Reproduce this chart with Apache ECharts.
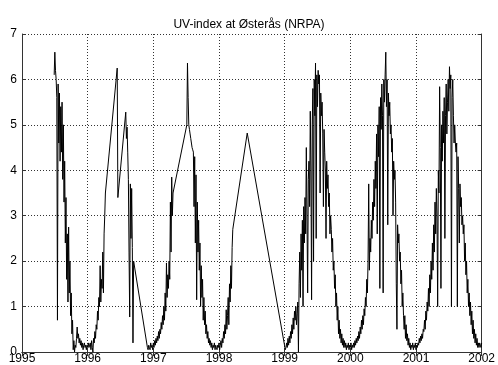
<!DOCTYPE html>
<html>
<head>
<meta charset="utf-8">
<script src="https://cdn.jsdelivr.net/npm/echarts@6/dist/echarts.min.js"></script>
<style>
	html, body { margin: 0; padding: 0; background: #fff; }
	#chart { width: 498px; height: 365px; }
</style>
</head>
<body>
<div id="chart"></div>
<script>
// daily-ish samples, one value every STEP year
var STEP = 0.01;
var xTicks = [1995, 1996, 1997, 1998, 1999, 2000, 2001, 2002];

var start1995 = 1995.49;
var uv1995 = [
	6.1, 6.6, 6.2, 6.0, 5.6, 0.7, 5.9, 4.6, 5.7, 4.2,
	5.4, 4.4, 5.5, 3.8, 5.0, 3.3, 4.2, 2.4, 3.4, 1.6,
	2.6, 1.1, 2.75, 1.3, 2.0, 0.8, 1.3, 0.4, 0.7, 0.05,
	0.25, 0.0, 0.15, 0.1, 0.3, 0.55, 0.3, 0.4, 0.2, 0.3,
	0.15, 0.25, 0.1, 0.2, 0.05, 0.15, 0.2, 0.1, 0.15, 0.05,
	0.15, 0.1, 0.2, 0.1, 0.15, 0.2, 0.05, 0.25, 0.1, 0.0,
	0.3, 0.2, 0.45, 0.3, 0.6, 0.5, 0.9, 0.7, 1.2, 1.0,
	1.9, 1.1, 1.6, 1.4, 2.2, 1.3, 2.6, 3.0, 3.5
];

var start1996a = 1996.45;
var uv1996a = [6.25, 3.4];

var start1996b = 1996.58;
var uv1996b = [5.28, 4.7, 4.95, 4.4, 3.8, 2.2, 0.77, 3.7, 2.5, 3.6, 2.3, 0.2, 2.0];

var start1997a = 1996.91;
var uv1997a = [
	0.1, 0.05, 0.15, 0.1, 0.05, 0.2, 0.1, 0.15, 0.05, 0.2,
	0.1, 0.25, 0.15, 0.3, 0.2, 0.35, 0.25, 0.45, 0.3, 0.5,
	0.4, 0.65, 0.5, 0.8, 0.6, 1.0, 0.7, 1.3, 0.9, 1.96,
	1.2, 1.7, 1.4, 2.0, 1.6, 3.3, 2.2, 3.85, 3.0, 3.5
];

var start1997b = 1997.51;
var uv1997b = [
	5.0, 6.36, 5.6, 5.0, 4.9, 4.8, 4.7, 4.6, 4.5,
	4.45, 4.4, 3.2, 4.3, 2.4, 3.9, 1.15, 3.3, 2.2, 2.9, 1.8, 2.4,
	1.0, 1.9, 1.2, 1.6, 0.7, 1.2, 0.6, 0.9, 0.4, 0.6, 0.3, 0.45,
	0.2, 0.3, 0.15, 0.25, 0.1, 0.2, 0.05, 0.15, 0.1, 0.2, 0.05, 0.15,
	0.1, 0.05, 0.15, 0.1, 0.2, 0.05, 0.15, 0.25, 0.1, 0.3, 0.2, 0.45,
	0.3, 0.6, 0.4, 0.93, 0.5, 0.8, 1.2, 0.6, 1.5, 1.1, 1.9, 1.4, 2.3, 2.7
];

var start1998 = 1998.43;
var uv1998 = [4.82];

var start1999 = 1999.01;
var uv1999 = [
	0.05, 0.1, 0.2, 0.1, 0.3, 0.15, 0.35, 0.2, 0.45, 0.3,
	0.6, 0.4, 0.75, 0.5, 0.9, 0.7, 1.0, 0.6, 0.85, 1.1,
	0.0, 1.5, 2.2, 1.2, 2.6, 1.8, 2.9, 1.0, 3.2, 2.4,
	3.4, 2.6, 4.5, 3.0, 1.3, 3.8, 4.2, 3.2, 5.3, 4.0,
	1.15, 5.0, 5.8, 2.0, 6.0, 5.2, 6.36, 2.5, 6.1, 5.4,
	6.2, 5.9, 6.1, 3.5, 5.7, 5.2, 5.5, 4.8, 3.2, 4.9,
	4.4, 4.0, 2.5, 4.2, 3.6, 3.9, 3.2, 3.5, 2.6, 3.0,
	2.7, 2.2, 2.5, 1.8, 2.0, 1.4, 1.7, 1.0, 1.3, 0.7,
	1.0, 0.4, 0.7, 0.3, 0.5, 0.2, 0.4, 0.15, 0.3, 0.1,
	0.25, 0.1, 0.2, 0.05, 0.15, 0.1, 0.2, 0.05, 0.15, 0.1
];

var start2000 = 2000.01;
var uv2000 = [
	0.2, 0.05, 0.15, 0.1, 0.2, 0.1, 0.25, 0.15, 0.3, 0.2,
	0.35, 0.25, 0.45, 0.3, 0.55, 0.4, 0.7, 0.5, 0.8, 0.6,
	0.95, 0.8, 1.2, 1.0, 1.6, 1.3, 2.0, 3.7, 1.8, 2.5,
	2.2, 2.9, 2.5, 3.3, 2.9, 3.8, 3.2, 4.2, 3.6, 4.8,
	2.6, 5.0, 4.3, 5.4, 1.4, 5.6, 4.9, 5.9, 5.2, 1.3,
	6.0, 5.5, 6.1, 6.6, 5.4, 6.0, 2.8, 5.7, 5.2, 5.5,
	4.8, 5.0, 4.4, 4.7, 3.0, 4.2, 3.8, 4.0, 3.3, 1.5,
	0.5, 2.8, 2.4, 2.6, 2.0, 2.2, 1.5, 1.8, 1.0, 1.3,
	0.8, 0.5, 0.8, 0.3, 0.6, 0.25, 0.4, 0.15, 0.3, 0.1,
	0.2, 0.05, 0.15, 0.1, 0.2, 0.05, 0.15, 0.1, 0.2, 0.05
];

var start2001 = 2001.01;
var uv2001 = [
	0.15, 0.1, 0.2, 0.15, 0.3, 0.2, 0.35, 0.25, 0.4, 0.3,
	0.5, 0.45, 0.7, 0.5, 0.9, 0.7, 1.1, 0.9, 1.4, 1.0,
	1.7, 1.3, 2.0, 1.6, 2.4, 1.8, 2.8, 2.2, 3.3, 2.6,
	3.6, 3.0, 1.0, 4.0, 3.5, 5.84, 4.5, 1.4, 5.0, 4.2,
	5.3, 4.6, 5.6, 2.5, 5.2, 5.9, 4.8, 5.5, 6.0, 5.3,
	6.28, 5.8, 6.1, 1.0, 5.6, 6.0, 5.2, 4.6, 5.0, 4.6,
	4.4, 4.6, 1.0, 4.3, 3.6, 2.4, 3.7, 3.2, 3.4, 2.8,
	3.0, 2.6, 2.8, 2.0, 2.4, 1.7, 2.0, 1.3, 1.6, 1.0,
	1.3, 0.8, 1.1, 0.6, 0.9, 0.4, 0.7, 0.3, 0.5, 0.2,
	0.4, 0.15, 0.3, 0.1, 0.2, 0.1, 0.2, 0.15, 0.1, 0.2
];

var pieces = [
	[start1995, uv1995], [start1996a, uv1996a], [start1996b, uv1996b],
	[start1997a, uv1997a], [start1997b, uv1997b], [start1998, uv1998],
	[start1999, uv1999], [start2000, uv2000], [start2001, uv2001]
];

var points = [];
pieces.forEach(function(p){
	for(var i = 0; i < p[1].length; i++){
		points.push([+(p[0] + i * STEP).toFixed(3), p[1][i]]);
	}
});

var FONT = 'Liberation Sans, Arial, sans-serif';
var boxLine = { show: true, lineStyle: { color: '#333', width: 1 } };
var grid = { show: true, lineStyle: { color: '#333', width: 1, type: [1, 2] } };

var chart = echarts.init(document.getElementById('chart'), null, { renderer: 'canvas' });
chart.setOption({
	animation: false,
	backgroundColor: '#fff',
	title: {
		text: 'UV-index at Østerås (NRPA)',
		left: 'center',
		top: 14,
		textStyle: { fontFamily: FONT, fontSize: 12, fontWeight: 'normal', color: '#000' }
	},
	grid: { left: 22, right: 15, top: 34, bottom: 13, containLabel: false },
	xAxis: [{
		type: 'value',
		min: xTicks[0],
		max: xTicks[xTicks.length - 1],
		interval: 1,
		axisLine: boxLine,
		axisTick: { show: true, inside: true, length: 4, lineStyle: { color: '#333' } },
		axisLabel: {
			margin: 1,
			color: '#000',
			fontFamily: FONT,
			fontSize: 12,
			formatter: function(v){ return String(v); }
		},
		splitLine: grid
	}, {
		type: 'value',
		position: 'top',
		min: xTicks[0],
		max: xTicks[xTicks.length - 1],
		interval: 1,
		axisLine: boxLine,
		axisTick: { show: true, inside: true, length: 4, lineStyle: { color: '#333' } },
		axisLabel: { show: false },
		splitLine: { show: false }
	}],
	yAxis: [{
		type: 'value',
		min: 0,
		max: 7,
		interval: 1,
		axisLine: boxLine,
		axisTick: { show: true, inside: true, length: 4, lineStyle: { color: '#333' } },
		axisLabel: { margin: 5, color: '#000', fontFamily: FONT, fontSize: 12 },
		splitLine: grid
	}, {
		type: 'value',
		position: 'right',
		min: 0,
		max: 7,
		interval: 1,
		axisLine: boxLine,
		axisTick: { show: true, inside: true, length: 4, lineStyle: { color: '#333' } },
		axisLabel: { show: false },
		splitLine: { show: false }
	}],
	series: [{
		type: 'line',
		data: points,
		showSymbol: false,
		symbol: 'none',
		sampling: null,
		lineStyle: { color: '#000', width: 1 },
		xAxisIndex: 0,
		yAxisIndex: 0
	}]
});
</script>
</body>
</html>
